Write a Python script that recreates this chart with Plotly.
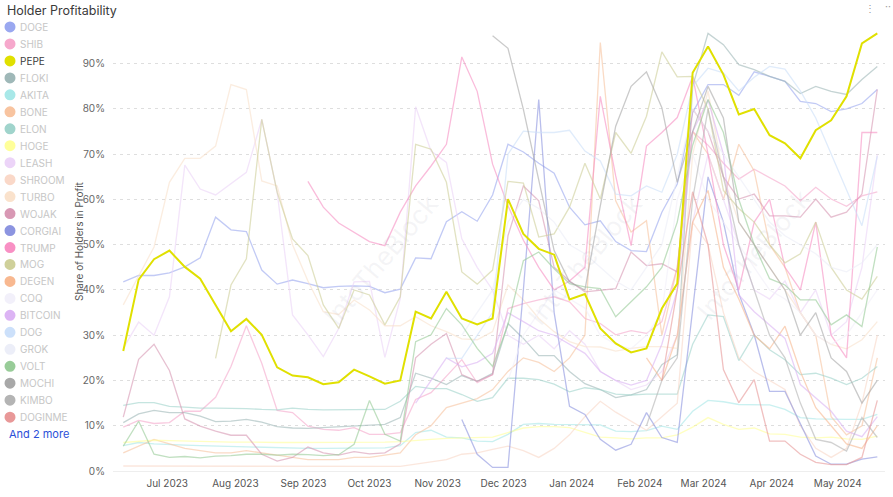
import plotly.graph_objects as go
import pandas as pd

dates = pd.date_range("2023-06-11", periods=50, freq="7D")
N = None

PEPE = [26.5,42.3,46.8,48.7,45.1,42.5,36.7,30.9,33.6,30.1,22.9,21.1,20.7,19.2,19.6,22.4,20.9,19.3,20.0,35.2,
        33.7,39.6,33.7,32.4,33.7,60.1,52.4,49.1,47.8,37.9,39.1,31.5,28.2,26.2,27.1,35.9,41.4,88.0,93.8,87.6,
        78.8,80.0,74.2,72.4,69.1,75.3,77.5,82.8,94.5,96.7]
DOGE = [41.8,43.2,43.2,43.8,45.1,47.1,56.1,53.3,52.9,44.4,41.3,42.2,41.4,40.5,40.8,40.9,40.8,39.4,40.2,47.1,
        46.9,55.1,57.3,55.2,61.0,72.2,70.5,68.0,65.8,58.3,54.4,55.3,50.7,48.7,48.5,57.2,63.4,79.2,85.4,85.4,
        83.0,88.2,87.2,86.1,81.7,81.2,79.4,80.0,81.2,84.3]
SHIB = [9.7,11.2,10.5,10.7,13.2,13.2,16.3,23.1,32.1,23.8,13.4,12.9,9.9,9.2,9.0,9.6,8.1,8.1,8.5,
        15.8,17.3,21.0,24.6,19.5,21.3,35.9,37.0,37.8,38.5,37.4,33.7,32.6,30.1,31.0,30.4,33.0,45.0,75.0,72.0,68.0,
        64.5,66.7,64.9,63.0,59.7,62.7,60.1,58.5,60.8,61.7]
FLOKI = [10.7,12.6,13.4,12.9,12.9,12.1,10.9,11.0,11.4,10.8,9.8,9.5,9.4,9.6,9.8,10.0,10.1,10.3,11.8,
         21.6,20.5,19.1,21.1,19.8,21.6,32.6,29.3,25.5,25.5,22.0,19.3,18.0,16.2,16.8,18.0,23.5,25.7,85.0,96.7,94.2,
         89.8,88.7,87.2,86.1,83.4,85.0,83.9,83.2,86.5,89.4]
AKITA = [5.6,6.3,6.0,5.8,5.7,5.6,5.5,5.4,5.3,5.2,5.2,5.1,5.0,5.0,5.0,5.0,5.0,5.1,5.6,8.5,
         9.0,7.5,7.3,6.6,6.5,8.1,10.3,10.5,10.3,10.3,10.3,10.2,8.8,8.7,8.9,9.9,9.2,13.2,15.6,15.3,
         14.7,14.7,14.6,13.6,11.8,11.5,11.4,11.4,11.4,12.5]
BONE = [4.0,5.5,7.0,6.0,5.0,4.5,4.0,4.0,4.5,4.0,3.5,3.0,2.5,2.5,2.5,3.0,3.0,3.5,4.0,8.0,
        10.0,14.0,15.0,16.0,18.0,22.0,25.0,24.0,22.0,25.0,30.0,94.7,59.7,52.8,55.3,30.0,45.0,75.0,70.0,60.0,
        72.2,66.3,50.0,45.0,35.0,30.0,12.0,8.0,10.0,25.0]
ELON = [14.5,15.1,15.1,14.3,14.1,13.9,13.9,13.9,13.8,13.6,13.5,13.9,13.6,13.5,13.5,13.5,13.5,13.6,
        15.4,18.7,18.2,18.2,16.9,15.4,16.2,20.5,20.5,20.2,19.2,17.5,18.4,18.0,17.0,16.8,17.0,17.0,17.0,28.0,34.5,34.1,
        24.4,30.1,26.8,24.6,21.3,21.6,20.5,19.1,20.5,23.1]
HOGE = [6.3,6.5,6.8,6.7,6.6,6.5,6.4,6.4,6.4,6.3,6.3,6.3,6.3,6.3,6.3,6.3,6.3,6.4,6.5,6.8,
        7.0,7.2,7.3,7.4,7.5,8.5,9.5,9.8,9.8,9.6,8.5,7.5,7.3,7.1,7.3,7.3,8.0,9.7,11.8,10.3,
        9.2,9.5,8.2,8.1,7.5,7.3,7.5,7.1,7.0,7.7]
LEASH = [27.1,32.9,30.0,38.5,67.6,62.3,61.0,63.4,66.0,77.7,61.6,34.5,30.1,25.3,31.5,41.8,41.9,25.1,38.1,80.5,
         70.7,68.2,51.3,45.0,40.0,30.0,28.0,30.0,27.0,31.0,28.0,22.0,20.0,18.0,19.0,22.0,30.0,55.0,70.0,60.0,
         50.0,40.0,38.0,42.0,35.0,40.0,30.0,33.0,45.0,70.0]
SHROOM = [1.1,1.1,1.0,1.0,1.0,1.0,1.0,1.0,1.0,1.0,1.0,1.0,1.0,1.0,1.0,1.0,1.0,1.0,1.0,1.5,
          2.0,2.5,3.7,4.0,4.8,5.5,4.5,3.0,5.0,8.0,12.0,15.4,13.0,11.0,9.0,12.0,15.0,55.0,50.0,35.0,
          25.0,22.0,20.0,18.0,10.0,5.0,3.0,5.0,15.0,30.0]
TURBO = [36.7,43.0,49.5,63.8,69.1,69.1,71.8,85.4,84.3,64.1,63.0,50.0,42.0,35.2,34.6,37.8,35.6,32.1,32.1,34.1,
         32.1,30.8,29.2,29.0,30.8,41.1,37.8,33.7,30.8,28.6,27.5,27.4,26.5,27.1,27.5,27.5,27.1,70.0,84.0,65.0,
         55.0,50.0,45.0,40.0,35.0,30.0,28.0,27.0,29.0,33.0]
WOJAK = [11.9,24.7,28.0,22.2,11.5,9.9,8.8,7.9,7.9,3.7,2.2,3.0,5.3,4.0,3.5,4.3,3.8,4.0,6.0,25.0,
         28.0,30.4,21.3,19.8,21.3,52.0,63.0,59.7,45.0,42.0,39.6,40.0,40.3,48.4,45.4,45.8,44.0,80.0,75.0,65.0,
         60.1,61.2,56.4,56.4,56.1,60.1,56.1,57.2,61.2,84.3]
CORGIAI = [N]*22 + [11.4,3.7,0.8,0.8,40.0,82.1,35.0,14.3,12.5,7.0,4.6,5.9,12.9,7.4,6.3,35.0,65.0,55.0,
                    39.2,30.1,17.6,17.6,10.3,3.3,1.5,1.5,2.6,3.1]
TRUMP = [N]*12 + [64.0,58.3,54.8,52.8,50.7,49.8,57.2,63.0,67.4,72.2,91.5,83.9,67.8,58.6,51.0,45.0,40.0,42.0,
                  45.0,82.8,65.2,49.8,71.8,74.8,78.1,87.2,70.0,50.0,40.0,55.0,60.0,45.0,40.0,55.0,30.0,25.0,74.8,74.8]
MOG = [N]*6 + [24.9,41.1,46.9,77.7,61.6,51.3,47.6,36.7,31.5,40.0,38.9,32.3,38.5,72.2,71.1,63.8,44.0,41.3,
               44.4,64.0,63.6,51.7,52.4,58.3,68.0,60.1,74.8,70.2,78.4,92.6,87.1,87.2,80.0,62.0,58.0,55.0,50.0,46.0,
               48.0,55.0,45.0,40.0,38.0,43.0]
DEGEN = [N]*34 + [25.0,20.0,30.0,55.0,62.0,45.0,38.0,30.0,27.0,32.0,22.0,14.0,10.0,6.0,5.0,10.0]
COQ = [N]*25 + [20.0,30.0,35.0,40.0,38.0,36.0,30.0,28.0,27.0,30.0,35.0,60.0,70.0,60.0,55.0,50.0,45.0,40.0,
                38.0,35.0,30.0,28.0,30.0,35.0,40.0]
BITCOIN = [N]*19 + [15.0,20.0,25.0,23.0,24.0,26.0,35.0,33.0,31.0,30.0,28.0,26.0,22.0,20.0,19.0,20.0,28.0,40.0,
                    75.0,82.0,70.0,38.9,35.2,32.3,29.3,19.1,16.2,13.2,8.8,7.6,12.0]
DOG = [N]*21 + [24.9,24.9,30.0,35.0,70.0,75.1,74.8,74.8,75.3,70.7,68.5,61.2,60.8,63.0,61.6,70.0,85.0,89.0,88.0,
                84.0,87.0,89.4,88.8,84.0,78.0,70.0,62.0,54.2,69.6]
GROK = [N]*22 + [30.0,35.0,40.0,55.0,60.0,58.0,55.0,50.0,48.0,45.0,42.0,40.0,45.0,50.0,65.0,80.0,75.0,70.0,
                 65.0,60.0,55.0,52.0,50.0,48.0,45.0,44.0,46.0,50.0]
VOLT = [5.5,11.0,3.7,3.0,3.2,2.9,3.3,3.4,3.7,3.7,3.5,3.7,3.6,3.4,3.6,5.9,15.6,8.1,6.6,28.6,
        30.1,35.9,32.3,27.1,23.1,32.3,46.5,48.4,44.7,41.4,40.7,40.3,34.1,37.4,40.7,45.0,55.0,72.0,82.1,74.8,
        60.0,50.0,42.5,41.1,37.8,37.8,32.3,34.5,31.9,49.5]
MOCHI = [N]*24 + [96.2,93.4,79.9,64.5,48.7,41.8,40.0,58.6,76.2,85.0,88.2,80.3,63.8,75.0,85.0,78.0,
                  55.0,50.0,45.0,40.0,30.0,35.0,25.0,22.0,15.0,20.0]
KIMBO = [N]*34 + [10.0,20.0,25.0,60.0,80.0,65.0,50.0,40.0,30.0,25.0,15.0,7.0,6.3,4.4,11.8,7.4]
DOGINME = [N]*35 + [20.0,40.0,61.7,50.0,22.4,15.1,20.2,6.6,6.6,3.7,1.9,1.4,1.4,3.0,15.6]

names = ["DOGE","SHIB","PEPE","FLOKI","AKITA","BONE","ELON","HOGE","LEASH","SHROOM","TURBO","WOJAK",
         "CORGIAI","TRUMP","MOG","DEGEN","COQ","BITCOIN","DOG","GROK","VOLT","MOCHI","KIMBO","DOGINME"]
series = [DOGE,SHIB,PEPE,FLOKI,AKITA,BONE,ELON,HOGE,LEASH,SHROOM,TURBO,WOJAK,
          CORGIAI,TRUMP,MOG,DEGEN,COQ,BITCOIN,DOG,GROK,VOLT,MOCHI,KIMBO,DOGINME]
colors = ["#9aa8f0","#f6a8cc","#e0e000","#9fb8b8","#a8e8e8","#f8c4a0","#a0d4cc","#ffff9a","#ecd4f8",
          "#fad8c8","#fae2cc","#d898b4","#8c94e0","#f890c4","#cfd09a","#f8b890","#f2f0fa","#dcb4f4",
          "#cce0fa","#eceef8","#98cc98","#a8a8a8","#b4b4b4","#e89898"]
month_ticks = pd.date_range("2023-07-01", "2024-05-01", freq="MS")
y_ticks = [0, 10, 20, 30, 40, 50, 60, 70, 80, 90]
y_tick_text = [f"{v}%" for v in y_ticks]

fig = go.Figure()
for nm, vals, col in zip(names, series, colors):
    if nm == "PEPE":
        continue
    fig.add_trace(go.Scatter(x=dates, y=vals, mode="lines", name=nm, showlegend=False,
                             line=dict(color=col, width=1.3), opacity=0.6, hoverinfo="skip"))
fig.add_trace(go.Scatter(x=dates, y=PEPE, mode="lines", name="PEPE", showlegend=False,
                         line=dict(color="#e0e000", width=2), hoverinfo="skip"))

L, R, T, B = 113, 8, 23, 24
W, H = 893 - L - R, 497 - T - B
def px(x): return (x - L) / W
def py(y): return (T + H - y) / H

shapes, annots = [], []
for k, (nm, col) in enumerate(zip(names, colors)):
    cy = 27 + 17.04 * k
    shapes.append(dict(type="circle", xref="paper", yref="paper", xsizemode="pixel", ysizemode="pixel",
                       xanchor=px(10), yanchor=py(cy), x0=-5.5, x1=5.5, y0=-5.5, y1=5.5,
                       fillcolor=col, line=dict(width=0)))
    annots.append(dict(xref="paper", yref="paper", x=px(18), y=py(cy), xanchor="left", yanchor="middle",
                       text=nm, showarrow=False,
                       font=dict(size=10, color="#3c3c3c" if nm == "PEPE" else "#c6c6c6")))
annots.append(dict(xref="paper", yref="paper", x=px(5), y=py(10), xanchor="left", yanchor="middle",
                   text="Holder Profitability", showarrow=False, font=dict(size=12.5, color="#3a3a3a")))
annots.append(dict(xref="paper", yref="paper", x=px(7), y=py(436), xanchor="left", yanchor="middle",
                   text="And 2 more", showarrow=False, font=dict(size=11, color="#2b4fd8")))
annots.append(dict(xref="paper", yref="paper", x=px(79), y=py(242), xanchor="center", yanchor="middle",
                   text="Share of Holders in Profit", textangle=-90, showarrow=False,
                   font=dict(size=10, color="#555555")))
for wx, wy in [(315, 335), (585, 335), (820, 330)]:
    annots.append(dict(xref="paper", yref="paper", x=px(wx), y=py(wy), text="IntoTheBlock",
                       textangle=-50, showarrow=False, font=dict(size=26, color="rgba(170,170,190,0.13)")))
annots.append(dict(xref="paper", yref="paper", x=px(870), y=py(8), xanchor="center", yanchor="middle",
                   text="⋮", showarrow=False, font=dict(size=10, color="#9a9a9a")))
annots.append(dict(xref="paper", yref="paper", x=px(893), y=py(6), xanchor="right", yanchor="middle",
                   text="··", showarrow=False, font=dict(size=10, color="#9a9a9a")))

fig.update_layout(
    width=893, height=497, margin=dict(l=L, r=R, t=T, b=B),
    paper_bgcolor="white", plot_bgcolor="white",
    font=dict(family="Inter, Roboto, sans-serif", color="#555555"),
    shapes=shapes, annotations=annots, showlegend=False,
    xaxis=dict(type="date", range=["2023-06-06 08:00", "2024-05-22 12:00"],
               tickvals=list(month_ticks), tickformat="%b %Y",
               tickfont=dict(size=10, color="#555555"), showgrid=False,
               ticks="outside", ticklen=3, tickcolor="rgba(0,0,0,0)",
               showline=True, linecolor="#eeeeee", linewidth=1, zeroline=False),
    yaxis=dict(range=[0, 99], tickvals=y_ticks, ticktext=y_tick_text,
               tickfont=dict(size=10, color="#666666"), showgrid=True, gridcolor="#dedede",
               griddash="3px,4px", gridwidth=1, zeroline=False,
               ticks="outside", ticklen=5, tickcolor="rgba(0,0,0,0)"),
)
fig.write_html("out.html", config={"displayModeBar": False},
               post_script="document.body.style.margin='0';document.body.style.overflow='hidden';")
